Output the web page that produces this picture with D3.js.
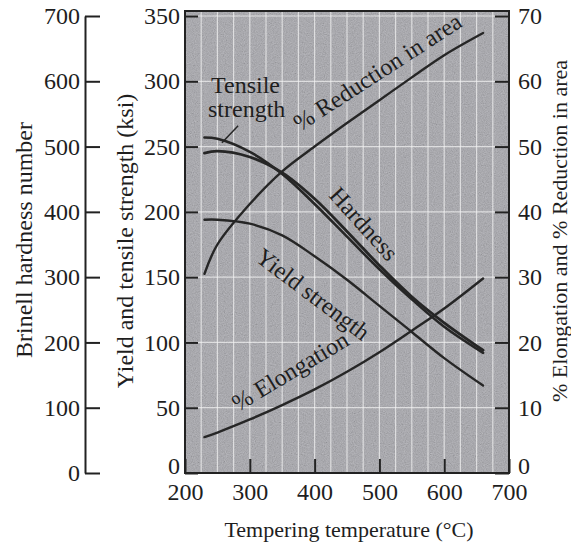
<!DOCTYPE html>
<html>
<head>
<meta charset="utf-8">
<script src="https://cdn.jsdelivr.net/npm/d3@7"></script>
<style>
  body { margin: 0; background: #fff; }
  text { font-family: "Liberation Serif", "DejaVu Serif", serif; fill: #1e1e1e; }
</style>
</head>
<body>
<svg width="571" height="544"></svg>
<script>
// tempering temperatures (deg C) where the curves were read
const temps = [230, 250, 300, 350, 400, 450, 500, 550, 600, 660];
const tensileKsi = [257, 256, 246, 229, 206, 181, 156, 133, 112, 92];
const yieldKsi = [194, 194, 191, 182, 166, 148, 128, 108, 88, 67];
const hardnessBhn = [490, 493, 484, 460, 420, 370, 318, 270, 230, 188];
const elongationPct = [5.5, 6.2, 8.2, 10.4, 12.8, 15.5, 18.5, 21.8, 25.2, 29.8];
const reductionPct = [30.5, 35, 41.2, 46.2, 50, 53.6, 57.1, 60.6, 64.0, 67.4];

const tempTicks = [200, 300, 400, 500, 600, 700];
const ksiTicks = [0, 50, 100, 150, 200, 250, 300, 350];
const bhnTicks = [0, 100, 200, 300, 400, 500, 600, 700];
const pctTicks = [0, 10, 20, 30, 40, 50, 60, 70];

const svg = d3.select("svg");

const x = d3.scaleLinear().domain([200, 700]).range([185, 509]);
const yKsi = d3.scaleLinear().domain([0, 350]).range([473, 16]);
const yBhn = d3.scaleLinear().domain([0, 700]).range([473, 16]);
const yPct = d3.scaleLinear().domain([0, 70]).range([473, 16]);

const fLeft = x(200), fRight = x(700), fTop = yKsi(350) - 5, fBottom = yKsi(0);

// grainy grey background like the scanned original
const defs = svg.append("defs");
const f = defs.append("filter").attr("id", "grain")
    .attr("x", 0).attr("y", 0).attr("width", 1).attr("height", 1);
f.append("feTurbulence").attr("type", "fractalNoise")
    .attr("baseFrequency", 0.9).attr("numOctaves", 2).attr("seed", 4);
f.append("feColorMatrix").attr("type", "matrix")
    .attr("values", "0.33 0.33 0.33 0 0  0.33 0.33 0.33 0 0  0.33 0.33 0.36 0 0  0 0 0 0 1");

svg.append("rect")
    .attr("x", fLeft).attr("y", fTop)
    .attr("width", fRight - fLeft).attr("height", fBottom - fTop)
    .attr("fill", "#9e9ea4");
svg.append("rect")
    .attr("x", fLeft).attr("y", fTop)
    .attr("width", fRight - fLeft).attr("height", fBottom - fTop)
    .attr("filter", "url(#grain)")
    .attr("opacity", 0.4);

// white grid
const g = svg.append("g");
g.selectAll(".vgrid")
    .data(d3.range(225, 700, 25))
    .enter().append("line")
    .attr("x1", d => x(d)).attr("x2", d => x(d))
    .attr("y1", fTop).attr("y2", fBottom)
    .attr("stroke", "#f4f4f4").attr("stroke-width", 1.2).attr("opacity", 0.7);
g.selectAll(".hgrid")
    .data(ksiTicks.slice(1))
    .enter().append("line")
    .attr("x1", fLeft).attr("x2", fRight)
    .attr("y1", d => yKsi(d)).attr("y2", d => yKsi(d))
    .attr("stroke", "#f4f4f4").attr("stroke-width", 1.2).attr("opacity", 0.7);

// frame
svg.append("rect")
    .attr("x", fLeft).attr("y", fTop)
    .attr("width", fRight - fLeft).attr("height", fBottom - fTop)
    .attr("fill", "none").attr("stroke", "#222").attr("stroke-width", 2);

function styleAxis(sel) {
    sel.attr("font-family", null).attr("font-size", null);
    sel.selectAll("text").style("font-size", "24px").attr("fill", "#1e1e1e");
    sel.selectAll("line").attr("stroke", "#222").attr("stroke-width", 2);
    sel.select(".domain").attr("stroke", "#222").attr("stroke-width", 2);
}

// ksi axis (ticks inside the frame)
svg.append("g")
    .attr("transform", `translate(${fLeft},0)`)
    .call(d3.axisLeft(yKsi).tickValues(ksiTicks).tickSize(-13).tickPadding(5))
    .call(styleAxis)
    .call(a => a.select(".domain").remove())
    .call(a => a.selectAll("text").filter(d => d === 0).attr("dy", "0em"));

// Brinell axis
svg.append("g")
    .attr("transform", "translate(85,0)")
    .call(d3.axisLeft(yBhn).tickValues(bhnTicks).tickSize(-15).tickSizeOuter(0).tickPadding(5))
    .call(styleAxis);

// percent axis on the right
svg.append("g")
    .attr("transform", `translate(${fRight},0)`)
    .call(d3.axisRight(yPct).tickValues(pctTicks).tickSize(-14).tickPadding(9))
    .call(styleAxis)
    .call(a => a.select(".domain").remove())
    .call(a => a.selectAll("text").filter(d => d === 0).attr("dy", "0em"));

// temperature axis
svg.append("g")
    .attr("transform", `translate(0,${fBottom})`)
    .call(d3.axisBottom(x).tickValues(tempTicks).tickSize(-14).tickPadding(10))
    .call(styleAxis)
    .call(a => a.select(".domain").remove());

// curves
const lineKsi = d3.line().x((d, i) => x(temps[i])).y(d => yKsi(d)).curve(d3.curveCatmullRom);
const lineBhn = d3.line().x((d, i) => x(temps[i])).y(d => yBhn(d)).curve(d3.curveCatmullRom);
const linePct = d3.line().x((d, i) => x(temps[i])).y(d => yPct(d)).curve(d3.curveCatmullRom);

const curves = [
    { values: tensileKsi, gen: lineKsi, w: 2.6 },
    { values: hardnessBhn, gen: lineBhn, w: 2.8 },
    { values: yieldKsi, gen: lineKsi, w: 2.4 },
    { values: elongationPct, gen: linePct, w: 2.4 },
    { values: reductionPct, gen: linePct, w: 2.4 }
];
svg.selectAll(".curve")
    .data(curves)
    .enter().append("path")
    .attr("class", "curve")
    .attr("d", d => d.gen(d.values))
    .attr("fill", "none")
    .attr("stroke", "#262626")
    .attr("stroke-width", d => d.w)
    .attr("stroke-linecap", "round");

// curve labels
function label(txt, px, py, angle) {
    svg.append("text")
        .attr("transform", `translate(${px},${py}) rotate(${angle})`)
        .style("font-size", "24px")
        .text(txt);
}
label("Tensile", 211, 93, 0);
label("strength", 208, 117, 0);
svg.append("line")
    .attr("x1", x(257)).attr("y1", yKsi(253))
    .attr("x2", x(282)).attr("y2", yKsi(266))
    .attr("stroke", "#262626").attr("stroke-width", 1.5);
label("% Reduction in area", 300, 132, -33);
label("Hardness", 328, 196, 48);
label("Yield strength", 254, 260, 37);
label("% Elongation", 238, 412, -31);

// axis titles
function title(txt, px, py, angle, size) {
    svg.append("text")
        .attr("transform", `translate(${px},${py}) rotate(${angle})`)
        .attr("text-anchor", "middle")
        .style("font-size", size + "px")
        .text(txt);
}
title("Brinell hardness number", 32, 240, -90, 24);
title("Yield and tensile strength (ksi)", 133, 241, -90, 24);
title("% Elongation and % Reduction in area", 567, 231, -90, 22);
title("Tempering temperature (°C)", 349, 537, 0, 22);
</script>
</body>
</html>
